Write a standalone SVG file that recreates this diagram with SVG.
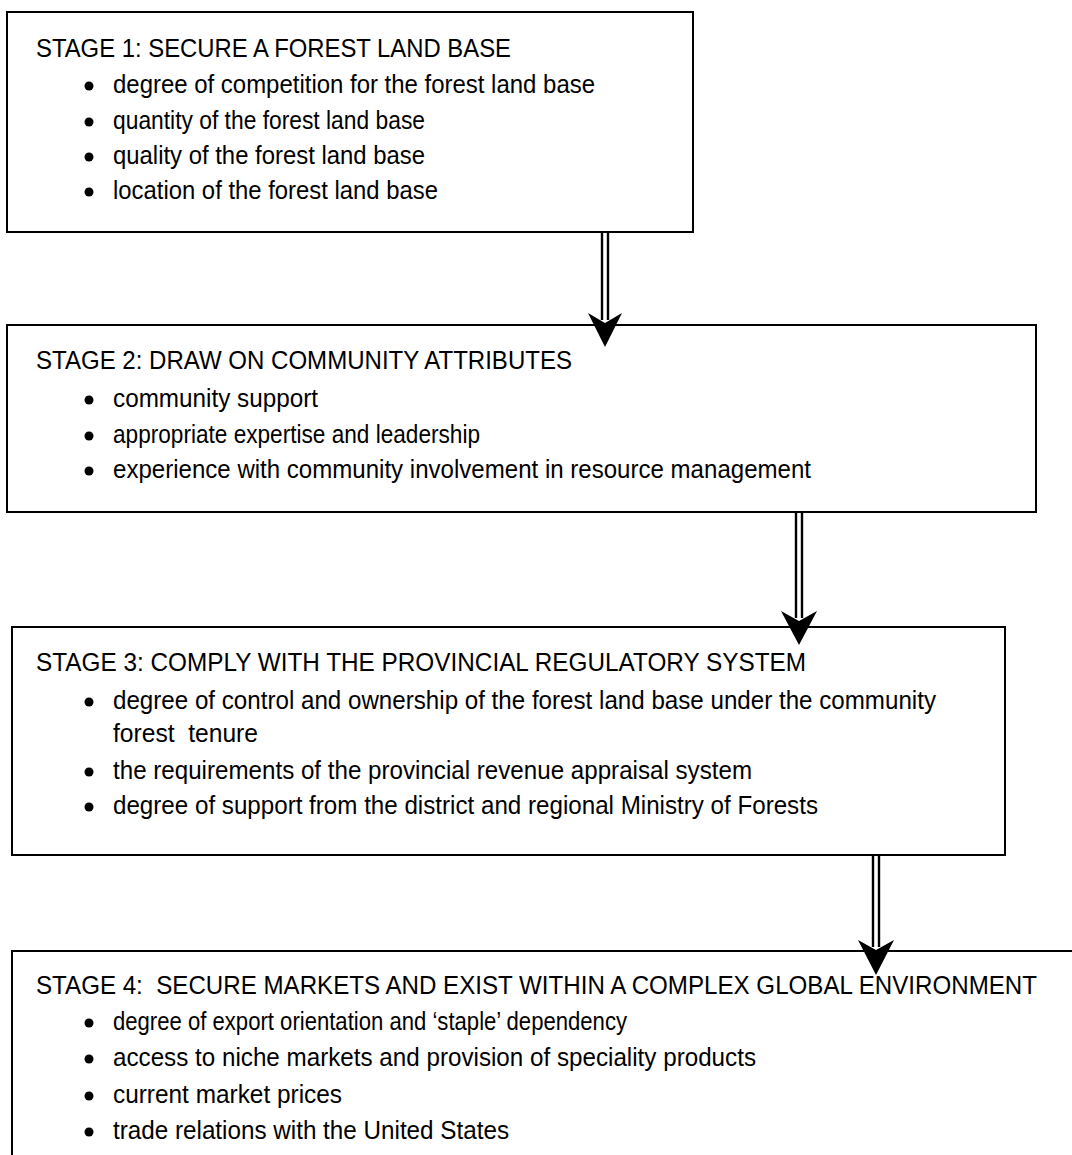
<svg xmlns="http://www.w3.org/2000/svg" width="1072" height="1155" viewBox="0 0 1072 1155">
<style>
.box{fill:none;stroke:#000;stroke-width:2}
.t{font-family:"Liberation Sans",Arial,sans-serif;font-size:25px;fill:#000}
.dot{fill:#000}
.shaft{stroke:#000;stroke-width:2.4;fill:none}
.head{fill:#000}
</style>
<rect width="1072" height="1155" fill="#fff"/>
<g id="connectors">
<line class="shaft" x1="602" y1="232" x2="602" y2="320"/>
<line class="shaft" x1="608" y1="232" x2="608" y2="320"/>
<polygon class="head" points="588,313 605,323 622,313 605,347"/>
<line class="shaft" x1="796" y1="512" x2="796" y2="618"/>
<line class="shaft" x1="802" y1="512" x2="802" y2="618"/>
<polygon class="head" points="781,611 799,621 817,611 799,645"/>
<line class="shaft" x1="873" y1="855" x2="873" y2="947"/>
<line class="shaft" x1="879" y1="855" x2="879" y2="947"/>
<polygon class="head" points="858,940 876,950 894,940 876,975"/>
</g>
<g id="stage1">
<rect class="box" x="7" y="12" width="686" height="220"/>
<text class="t" x="36" y="57" textLength="475" lengthAdjust="spacingAndGlyphs">STAGE 1: SECURE A FOREST LAND BASE</text>
<circle class="dot" cx="89" cy="86" r="4.5"/>
<text class="t" x="113" y="93" textLength="482" lengthAdjust="spacingAndGlyphs">degree of competition for the forest land base</text>
<circle class="dot" cx="89" cy="122" r="4.5"/>
<text class="t" x="113" y="129" textLength="312" lengthAdjust="spacingAndGlyphs">quantity of the forest land base</text>
<circle class="dot" cx="89" cy="157" r="4.5"/>
<text class="t" x="113" y="164" textLength="312" lengthAdjust="spacingAndGlyphs">quality of the forest land base</text>
<circle class="dot" cx="89" cy="192" r="4.5"/>
<text class="t" x="113" y="199" textLength="325" lengthAdjust="spacingAndGlyphs">location of the forest land base</text>
</g>
<g id="stage2">
<rect class="box" x="7" y="325" width="1029" height="187"/>
<text class="t" x="36" y="369" textLength="536" lengthAdjust="spacingAndGlyphs">STAGE 2: DRAW ON COMMUNITY ATTRIBUTES</text>
<circle class="dot" cx="89" cy="400" r="4.5"/>
<text class="t" x="113" y="407" textLength="205" lengthAdjust="spacingAndGlyphs">community support</text>
<circle class="dot" cx="89" cy="436" r="4.5"/>
<text class="t" x="113" y="443" textLength="367" lengthAdjust="spacingAndGlyphs">appropriate expertise and leadership</text>
<circle class="dot" cx="89" cy="471" r="4.5"/>
<text class="t" x="113" y="478" textLength="698" lengthAdjust="spacingAndGlyphs">experience with community involvement in resource management</text>
</g>
<g id="stage3">
<rect class="box" x="12" y="627" width="993" height="228"/>
<text class="t" x="36" y="671" textLength="770" lengthAdjust="spacingAndGlyphs">STAGE 3: COMPLY WITH THE PROVINCIAL REGULATORY SYSTEM</text>
<circle class="dot" cx="89" cy="702" r="4.5"/>
<text class="t" x="113" y="709" textLength="823" lengthAdjust="spacingAndGlyphs">degree of control and ownership of the forest land base under the community</text>
<text class="t" x="113" y="742" textLength="145" lengthAdjust="spacingAndGlyphs" xml:space="preserve">forest  tenure</text>
<circle class="dot" cx="89" cy="772" r="4.5"/>
<text class="t" x="113" y="779" textLength="639" lengthAdjust="spacingAndGlyphs">the requirements of the provincial revenue appraisal system</text>
<circle class="dot" cx="89" cy="807" r="4.5"/>
<text class="t" x="113" y="814" textLength="705" lengthAdjust="spacingAndGlyphs">degree of support from the district and regional Ministry of Forests</text>
</g>
<g id="stage4">
<path class="box" d="M12,1155 V951 H1072"/>
<text class="t" x="36" y="994" textLength="1001" lengthAdjust="spacingAndGlyphs" xml:space="preserve">STAGE 4:  SECURE MARKETS AND EXIST WITHIN A COMPLEX GLOBAL ENVIRONMENT</text>
<circle class="dot" cx="89" cy="1023" r="4.5"/>
<text class="t" x="113" y="1030" textLength="514" lengthAdjust="spacingAndGlyphs">degree of export orientation and ‘staple’ dependency</text>
<circle class="dot" cx="89" cy="1059" r="4.5"/>
<text class="t" x="113" y="1066" textLength="643" lengthAdjust="spacingAndGlyphs">access to niche markets and provision of speciality products</text>
<circle class="dot" cx="89" cy="1096" r="4.5"/>
<text class="t" x="113" y="1103" textLength="229" lengthAdjust="spacingAndGlyphs">current market prices</text>
<circle class="dot" cx="89" cy="1132" r="4.5"/>
<text class="t" x="113" y="1139" textLength="396" lengthAdjust="spacingAndGlyphs">trade relations with the United States</text>
</g>
</svg>
